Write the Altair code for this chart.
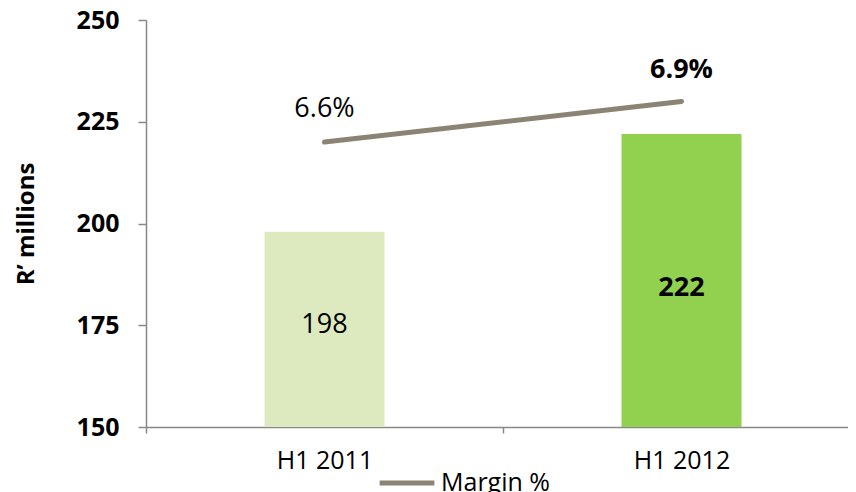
import altair as alt
import pandas as pd

categories = ["H1 2011", "H1 2012"]
revenue = [198, 222]
margin = [6.6, 6.9]
margin_labels = ["6.6%", "6.9%"]
bar_colors = ["#DDE9BE", "#92D050"]

df = pd.DataFrame({
    "period": categories,
    "revenue": revenue,
    "margin": margin,
    "mlabel": margin_labels,
    "color": bar_colors,
    "series": ["Margin %"] * len(categories),
})
df["mid"] = (150 + df["revenue"]) / 2

FONT = "Open Sans"

# band range deliberately wider than the visible plot: the original's plot runs past the right edge
xscale = alt.Scale(paddingInner=0, paddingOuter=0, range=[0, 714])
x_axis = alt.Axis(labelAngle=0, tickBand="extent")
x = alt.X("period:N", sort=categories, title=None, scale=xscale, axis=x_axis)

yscale = alt.Scale(domain=[150, 250], nice=False, zero=False)
y_axis = alt.Axis(values=[150, 175, 200, 225, 250], grid=False, title="R\u2019 millions")

bars = alt.Chart(df).mark_bar(width=120).encode(
    x=x,
    y=alt.Y("revenue:Q", scale=yscale, title="R\u2019 millions", axis=y_axis),
    y2=alt.datum(150),
    color=alt.Color("color:N", scale=None),
)

lab198 = alt.Chart(df).transform_filter(alt.datum.period == "H1 2011").mark_text(
    fontSize=27, font=FONT, color="#000000", dy=-4
).encode(x=x, y=alt.Y("mid:Q", scale=yscale, title="R\u2019 millions", axis=y_axis),
         text="revenue:Q")

lab222 = alt.Chart(df).transform_filter(alt.datum.period == "H1 2012").mark_text(
    fontSize=27, font=FONT, fontWeight="bold", color="#000000", dy=8
).encode(x=x, y=alt.Y("mid:Q", scale=yscale, title="R\u2019 millions", axis=y_axis),
         text="revenue:Q")

base = alt.layer(bars, lab198, lab222)

mscale = alt.Scale(domain=[4.5, 7.5], nice=False, zero=False)
m_axis = alt.Axis(title=None, labels=False, ticks=False, domain=False, grid=False)

line = alt.Chart(df).mark_line(strokeWidth=5, strokeCap="round").encode(
    x=x,
    y=alt.Y("margin:Q", scale=mscale, axis=m_axis),
    color=alt.Color("series:N", scale=alt.Scale(range=["#8B8374"]), title=None,
                    legend=alt.Legend(orient="none", legendX=231, legendY=433,
                                      symbolType="stroke", symbolSize=3000,
                                      symbolStrokeWidth=5, labelFontSize=25,
                                      labelFont=FONT, labelColor="#000000",
                                      labelOffset=4, padding=0)),
)

mlab1 = alt.Chart(df).transform_filter(alt.datum.period == "H1 2011").mark_text(
    fontSize=27, font=FONT, color="#000000", dy=-33
).encode(x=x, y=alt.Y("margin:Q", scale=mscale, axis=m_axis), text="mlabel:N")

mlab2 = alt.Chart(df).transform_filter(alt.datum.period == "H1 2012").mark_text(
    fontSize=27, font=FONT, fontWeight="bold", color="#000000", dy=-31
).encode(x=x, y=alt.Y("margin:Q", scale=mscale, axis=m_axis), text="mlabel:N")

over = alt.layer(line, mlab1, mlab2)

chart = alt.layer(base, over).resolve_scale(y="independent").properties(
    width=702, height=407,
    autosize=alt.AutoSizeParams(type="none"),
    padding={"left": 138, "top": 12, "right": 0, "bottom": 65},
).configure_view(stroke=None).configure_axisX(
    labelFontSize=25, labelFont=FONT, labelColor="#000000", labelPadding=15,
    domainColor="#888888", tickColor="#888888", tickSize=6,
    domainWidth=1.5, tickWidth=1.5,
).configure_axisY(
    labelFontSize=25, labelFontWeight="bold", labelFont=FONT,
    labelColor="#000000", labelPadding=19,
    titleFontSize=24, titleFont=FONT, titleFontWeight="bold",
    titleColor="#000000", titlePadding=38,
    domainColor="#888888", tickColor="#888888", tickSize=8,
    domainWidth=1.5, tickWidth=1.5,
)

chart.save("out.html", embed_options={"renderer": "svg", "actions": False})
